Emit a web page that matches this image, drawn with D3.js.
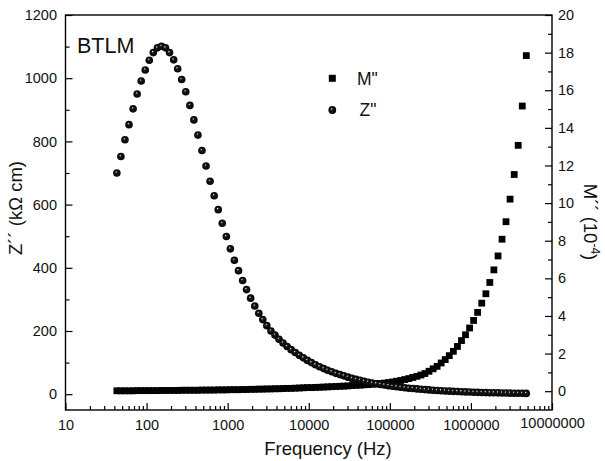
<!DOCTYPE html>
<html>
<head>
<meta charset="utf-8">
<script src="https://cdn.jsdelivr.net/npm/d3@7"></script>
<style>
  html, body { margin: 0; padding: 0; background: #fff; }
  svg { display: block; font-family: "Liberation Sans", Arial, sans-serif; }
</style>
</head>
<body>
<svg id="chart" width="605" height="461"></svg>
<script>
// ---- data ----
const freq = [43, 48.2, 54.1, 60.7, 68.2, 76.5, 85.8, 96.3, 108, 121, 136, 153, 171, 192, 216, 242, 271, 304, 342, 383,
  430, 482, 541, 607, 682, 765, 858, 963, 1080, 1210, 1360, 1530, 1710, 1920, 2160, 2420, 2710, 3040, 3420, 3830,
  4300, 4820, 5410, 6070, 6820, 7650, 8580, 9630, 10800, 12100, 13600, 15300, 17100, 19200, 21600, 24200, 27100, 30400, 34200, 38300,
  43000, 48200, 54100, 60700, 68200, 76500, 85800, 96300, 108000, 121000, 136000, 153000, 171000, 192000, 216000, 242000, 271000, 304000, 342000, 383000,
  430000, 482000, 541000, 607000, 682000, 765000, 858000, 963000, 1080000, 1210000, 1360000, 1530000, 1710000, 1920000, 2160000, 2420000, 2710000, 3040000, 3420000, 3830000,
  4300000, 4820000];

const zImag = [700, 752, 805, 853, 903, 950, 991, 1026, 1057, 1081, 1096, 1101, 1096, 1081, 1058, 1030, 996, 957, 914, 868,
  820, 771, 722, 674, 628, 584, 541, 499, 460, 424, 391, 360, 331, 304, 279, 256, 236, 217, 200, 187,
  174, 162, 151, 141, 132, 123, 115, 107, 100, 93, 87, 81, 76, 71, 66, 62, 58, 54, 50, 47,
  44, 41, 38, 35, 33, 31, 29, 27, 25, 23.5, 22, 20.5, 19, 18, 16.7, 15.6, 14.5, 13.6, 12.7, 11.8,
  11, 10.3, 9.6, 9.0, 8.4, 7.8, 7.3, 6.8, 6.3, 5.9, 5.5, 5.1, 4.8, 4.5, 4.2, 3.9, 3.6, 3.4, 3.2, 3.0,
  2.8, 2.6];

const mImag = [0.02, 0.02, 0.02, 0.02, 0.02, 0.03, 0.03, 0.03, 0.03, 0.03, 0.03, 0.04, 0.04, 0.04, 0.04, 0.04, 0.05, 0.05, 0.05, 0.05,
  0.05, 0.06, 0.06, 0.06, 0.06, 0.07, 0.07, 0.07, 0.08, 0.08, 0.08, 0.09, 0.09, 0.10, 0.10, 0.11, 0.11, 0.12, 0.12, 0.13,
  0.13, 0.14, 0.15, 0.15, 0.16, 0.17, 0.18, 0.19, 0.19, 0.20, 0.21, 0.22, 0.23, 0.24, 0.25, 0.26, 0.27, 0.28, 0.30, 0.31,
  0.32, 0.34, 0.35, 0.37, 0.39, 0.41, 0.43, 0.46, 0.49, 0.53, 0.57, 0.62, 0.67, 0.73, 0.79, 0.86, 0.94, 1.06, 1.19, 1.32,
  1.50, 1.68, 1.89, 2.12, 2.38, 2.69, 3.00, 3.36, 3.76, 4.19, 4.68, 5.18, 5.78, 6.45, 7.19, 8.08, 9.01, 10.21, 11.52, 13.07,
  15.16, 17.84];

const xTicks = [10, 100, 1000, 10000, 100000, 1000000, 10000000];
const yLeftTicks = [0, 200, 400, 600, 800, 1000, 1200];
const yLeftMinor = [100, 300, 500, 700, 900, 1100];
const yRightTicks = [0, 2, 4, 6, 8, 10, 12, 14, 16, 18, 20];
const yRightMinor = [1, 3, 5, 7, 9, 11, 13, 15, 17, 19];
const seriesNames = ['M"', 'Z"'];

// ---- layout ----
const L = 65.5, R = 552, T = 15, B = 410;
const svg = d3.select("#chart");

const x = d3.scaleLog().domain([10, 1e7]).range([L, R]);
const yL = d3.scaleLinear().domain([-50, 1200]).range([B, T]);
const yR = d3.scaleLinear().domain([-1, 20]).range([B, T]);

const xMinor = [];
xTicks.slice(0, -1).forEach(d => { for (let k = 2; k <= 9; k++) xMinor.push(d * k); });

// defs: sphere gradient (dark ball with small specular highlight)
const defs = svg.append("defs");
const g = defs.append("radialGradient").attr("id", "ball")
  .attr("cx", "50%").attr("cy", "50%").attr("r", "55%")
  .attr("fx", "40%").attr("fy", "35%");
g.append("stop").attr("offset", "0%").attr("stop-color", "#ffffff");
g.append("stop").attr("offset", "10%").attr("stop-color", "#9a9a9a");
g.append("stop").attr("offset", "26%").attr("stop-color", "#1a1a1a");
g.append("stop").attr("offset", "100%").attr("stop-color", "#000000");

const fs = 14.5;
function styleAxis(sel) {
  sel.select(".domain").remove();
  sel.selectAll("line").attr("stroke", "#000").attr("stroke-width", 1.2);
  sel.selectAll("text").attr("font-size", fs + "px").attr("fill", "#111")
    .attr("font-family", "'Liberation Sans', Arial, sans-serif");
}

// bottom axis
svg.append("g").attr("transform", `translate(0,${B})`)
  .call(d3.axisBottom(x).tickValues(xTicks).tickFormat(d3.format("d")).tickSize(-7).tickPadding(9.5))
  .call(styleAxis)
  .call(s => s.selectAll("text").filter(d => d === 1e7).attr("y", 7.5));
svg.append("g").attr("transform", `translate(0,${B})`)
  .call(d3.axisBottom(x).tickValues(xMinor).tickFormat("").tickSize(-4))
  .call(styleAxis);

// left axis
svg.append("g").attr("transform", `translate(${L},0)`)
  .call(d3.axisLeft(yL).tickValues(yLeftTicks).tickFormat(d3.format("d")).tickSize(-7).tickPadding(8.5))
  .call(styleAxis);
svg.append("g").attr("transform", `translate(${L},0)`)
  .call(d3.axisLeft(yL).tickValues(yLeftMinor).tickFormat("").tickSize(-4))
  .call(styleAxis);

// right axis
svg.append("g").attr("transform", `translate(${R},0)`)
  .call(d3.axisRight(yR).tickValues(yRightTicks).tickFormat(d3.format("d")).tickSize(-7).tickPadding(6))
  .call(styleAxis);
svg.append("g").attr("transform", `translate(${R},0)`)
  .call(d3.axisRight(yR).tickValues(yRightMinor).tickFormat("").tickSize(-4))
  .call(styleAxis);

// frame
svg.append("rect").attr("x", L).attr("y", T).attr("width", R - L).attr("height", B - T)
  .attr("fill", "none").attr("stroke", "#000").attr("stroke-width", 1.4);

// data
const mPts = freq.map((f, i) => ({ f, v: mImag[i] }));
const zPts = freq.map((f, i) => ({ f, v: zImag[i] }));
const sq = 6.8;
svg.append("g").selectAll("rect").data(mPts).join("rect")
  .attr("x", d => x(d.f) - sq / 2).attr("y", d => yR(d.v) - sq / 2)
  .attr("width", sq).attr("height", sq).attr("fill", "#000");
svg.append("g").selectAll("circle").data(zPts).join("circle")
  .attr("cx", d => x(d.f)).attr("cy", d => yL(d.v)).attr("r", 3.8)
  .attr("fill", "url(#ball)");

// BTLM label
svg.append("text").attr("x", 77).attr("y", 52.5).attr("font-size", "21.5px").attr("fill", "#111").text("BTLM");

// legend
const leg = svg.append("g");
leg.append("rect").attr("x", 332.3 - 3.5).attr("y", 78.3 - 3.5).attr("width", 7).attr("height", 7).attr("fill", "#000");
leg.append("circle").attr("cx", 332.3).attr("cy", 110).attr("r", 3.9).attr("fill", "url(#ball)");
leg.append("text").attr("x", 357).attr("y", 84.5).attr("font-size", "17.5px").attr("fill", "#111").text(seriesNames[0]);
leg.append("text").attr("x", 359.5).attr("y", 116).attr("font-size", "17.5px").attr("fill", "#111").text(seriesNames[1]);

// axis titles
svg.append("text").attr("x", 328).attr("y", 455).attr("text-anchor", "middle")
  .attr("font-size", "18.5px").attr("fill", "#111").text("Frequency (Hz)");

svg.append("text").attr("transform", "translate(22,208) rotate(-90)").attr("text-anchor", "middle")
  .attr("font-size", "18.5px").attr("fill", "#111").text("Z´´ (kΩ cm)");

const rt = svg.append("text").attr("transform", "translate(584,222) rotate(90)").attr("text-anchor", "middle")
  .attr("font-size", "18.5px").attr("fill", "#111");
rt.append("tspan").text("M´´ (10");
rt.append("tspan").attr("dy", -7).attr("font-size", "12px").text("-4");
rt.append("tspan").attr("dy", 7).text(")");
</script>
</body>
</html>
